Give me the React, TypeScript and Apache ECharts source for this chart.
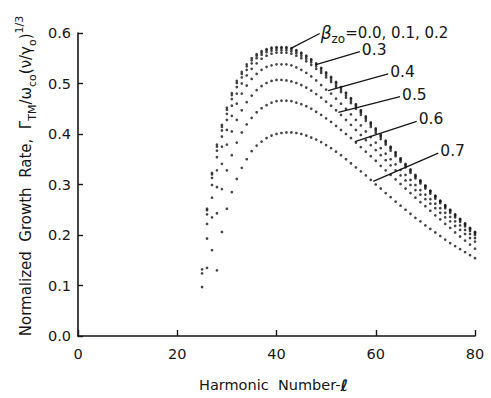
import React, { useEffect, useRef } from 'react';
import * as echarts from 'echarts';

// Normalized growth rate versus harmonic number, one dotted curve per beta_zo
const betaValues = ['0.0', '0.1', '0.2', '0.3', '0.4', '0.5', '0.6', '0.7'];
const firstHarmonic = [25, 25, 25, 26, 26, 26, 27, 28];

const rateBeta00 = [
  0.132, 0.252, 0.323, 0.379, 0.418, 0.452, 0.481, 0.505, 0.523, 0.538,
  0.550, 0.558, 0.564, 0.568, 0.571, 0.572, 0.572, 0.572, 0.570, 0.566,
  0.561, 0.555, 0.548, 0.540, 0.531, 0.522, 0.513, 0.503, 0.493, 0.482,
  0.471, 0.459, 0.447, 0.435, 0.423, 0.411, 0.399, 0.387, 0.375, 0.364,
  0.352, 0.341, 0.330, 0.319, 0.308, 0.298, 0.288, 0.278, 0.268, 0.259,
  0.250, 0.241, 0.232, 0.223, 0.214, 0.206,
];
const rateBeta01 = [
  0.124, 0.249, 0.320, 0.375, 0.414, 0.448, 0.477, 0.501, 0.519, 0.534,
  0.546, 0.555, 0.561, 0.566, 0.569, 0.570, 0.570, 0.570, 0.568, 0.564,
  0.559, 0.553, 0.546, 0.538, 0.529, 0.520, 0.511, 0.501, 0.491, 0.480,
  0.469, 0.457, 0.445, 0.433, 0.421, 0.409, 0.397, 0.385, 0.373, 0.362,
  0.350, 0.339, 0.328, 0.317, 0.307, 0.297, 0.287, 0.277, 0.267, 0.258,
  0.249, 0.240, 0.231, 0.222, 0.213, 0.205,
];
const rateBeta02 = [
  0.097, 0.241, 0.313, 0.367, 0.407, 0.440, 0.469, 0.493, 0.512, 0.527,
  0.540, 0.550, 0.557, 0.562, 0.565, 0.566, 0.566, 0.566, 0.564, 0.560,
  0.555, 0.549, 0.542, 0.534, 0.525, 0.516, 0.507, 0.497, 0.487, 0.476,
  0.465, 0.454, 0.442, 0.430, 0.418, 0.406, 0.394, 0.382, 0.371, 0.359,
  0.348, 0.337, 0.326, 0.315, 0.305, 0.295, 0.285, 0.275, 0.266, 0.256,
  0.247, 0.238, 0.229, 0.220, 0.211, 0.203,
];
const rateBeta03 = [
  0.222, 0.299, 0.354, 0.395, 0.428, 0.456, 0.480, 0.500, 0.516, 0.529,
  0.540, 0.549, 0.555, 0.559, 0.561, 0.561, 0.561, 0.559, 0.555, 0.550,
  0.544, 0.537, 0.529, 0.521, 0.512, 0.503, 0.493, 0.483, 0.472, 0.461,
  0.450, 0.438, 0.426, 0.414, 0.402, 0.390, 0.379, 0.367, 0.356, 0.345,
  0.334, 0.323, 0.312, 0.302, 0.292, 0.282, 0.272, 0.263, 0.253, 0.244,
  0.235, 0.226, 0.217, 0.208, 0.200,
];
const rateBeta04 = [
  0.193, 0.274, 0.328, 0.375, 0.408, 0.436, 0.460, 0.480, 0.496, 0.509,
  0.519, 0.527, 0.533, 0.536, 0.538, 0.538, 0.538, 0.536, 0.532, 0.527,
  0.521, 0.514, 0.506, 0.497, 0.488, 0.480, 0.470, 0.460, 0.450, 0.439,
  0.428, 0.417, 0.405, 0.394, 0.383, 0.372, 0.361, 0.350, 0.340, 0.329,
  0.319, 0.309, 0.299, 0.289, 0.280, 0.271, 0.262, 0.253, 0.244, 0.236,
  0.227, 0.219, 0.210, 0.202, 0.194,
];
const rateBeta05 = [
  0.135, 0.235, 0.295, 0.341, 0.379, 0.405, 0.428, 0.447, 0.463, 0.476,
  0.487, 0.495, 0.501, 0.505, 0.507, 0.507, 0.506, 0.504, 0.501, 0.497,
  0.492, 0.486, 0.479, 0.472, 0.464, 0.456, 0.447, 0.438, 0.428, 0.418,
  0.408, 0.398, 0.388, 0.378, 0.368, 0.358, 0.348, 0.338, 0.328, 0.318,
  0.308, 0.299, 0.289, 0.280, 0.271, 0.262, 0.253, 0.244, 0.235, 0.227,
  0.218, 0.210, 0.202, 0.194, 0.187,
];
const rateBeta06 = [
  0.170, 0.243, 0.291, 0.328, 0.358, 0.383, 0.403, 0.419, 0.432, 0.443,
  0.451, 0.457, 0.462, 0.465, 0.466, 0.466, 0.465, 0.462, 0.459, 0.455,
  0.450, 0.444, 0.438, 0.431, 0.424, 0.416, 0.408, 0.400, 0.392, 0.383,
  0.374, 0.365, 0.356, 0.347, 0.337, 0.328, 0.319, 0.310, 0.301, 0.292,
  0.283, 0.274, 0.265, 0.257, 0.248, 0.239, 0.231, 0.222, 0.214, 0.205,
  0.197, 0.189, 0.181, 0.173,
];
const rateBeta07 = [
  0.130, 0.206, 0.252, 0.285, 0.311, 0.333, 0.350, 0.366, 0.377, 0.385,
  0.392, 0.397, 0.400, 0.402, 0.403, 0.403, 0.402, 0.400, 0.397, 0.393,
  0.389, 0.384, 0.378, 0.372, 0.365, 0.358, 0.350, 0.342, 0.334, 0.326,
  0.318, 0.309, 0.300, 0.292, 0.283, 0.275, 0.266, 0.258, 0.250, 0.242,
  0.234, 0.227, 0.219, 0.212, 0.205, 0.198, 0.191, 0.184, 0.178, 0.172,
  0.166, 0.160, 0.154,
];
const rateSeries = [
  rateBeta00, rateBeta01, rateBeta02, rateBeta03,
  rateBeta04, rateBeta05, rateBeta06, rateBeta07,
];

// Leader-line annotations: [harmonic, rate] at the curve and at the label end
const annotationText = ['0.0, 0.1, 0.2', '0.3', '0.4', '0.5', '0.6', '0.7'];
const annotationTip = [
  [43.0, 0.570], [47.8, 0.537], [50.4, 0.486],
  [52.45, 0.443], [55.8, 0.385], [59.5, 0.306],
];
const annotationEnd = [
  [48.7, 0.599], [56.8, 0.563], [62.5, 0.519],
  [64.9, 0.474], [68.25, 0.425], [72.6, 0.362],
];

const FONT = '"DejaVu Sans", "Noto Sans", sans-serif';
const INK = '#161616';

export default function App() {
  const ref = useRef<HTMLDivElement>(null);

  useEffect(() => {
    if (!ref.current) return;
    const chart = echarts.init(ref.current, null, { renderer: 'svg' });

    const series = rateSeries.map((values, k) => ({
      type: 'scatter',
      name: betaValues[k],
      symbol: 'circle',
      symbolSize: 2.7,
      itemStyle: { color: INK },
      data: values.map((v, i) => [firstHarmonic[k] + i, v]),
      silent: true,
    }));

    chart.setOption({
      animation: false,
      backgroundColor: '#ffffff',
      grid: { left: 78, right: 16, top: 33, bottom: 61 },
      xAxis: {
        type: 'value',
        min: 0,
        max: 80,
        interval: 20,
        axisLine: { lineStyle: { color: INK, width: 1.6 } },
        axisTick: { inside: true, length: 6, lineStyle: { color: INK, width: 1.4 } },
        axisLabel: { color: INK, fontSize: 14.5, fontFamily: FONT, margin: 10 },
        splitLine: { show: false },
        name: 'Harmonic  Number-{l|ℓ}',
        nameLocation: 'middle',
        nameGap: 41,
        nameTextStyle: {
          color: INK,
          fontSize: 14.5,
          fontFamily: FONT,
          padding: [0, 6, 0, 0],
          rich: {
            l: { fontSize: 16, fontStyle: 'italic', fontWeight: 'bold', fontFamily: FONT, color: INK },
          },
        },
      },
      yAxis: {
        type: 'value',
        min: 0,
        max: 0.6,
        interval: 0.1,
        axisLine: { show: true, lineStyle: { color: INK, width: 1.6 } },
        axisTick: { show: true, inside: true, length: 5, lineStyle: { color: INK, width: 1.4 } },
        axisLabel: {
          color: INK,
          fontSize: 14.5,
          fontFamily: FONT,
          margin: 7,
          formatter: (v: number) => v.toFixed(1),
        },
        splitLine: { show: false },
      },
      series,
    });

    const toPx = (p: number[]) => chart.convertToPixel({ gridIndex: 0 }, p) as number[];

    const graphics: any[] = [];
    annotationText.forEach((txt, i) => {
      const a = toPx(annotationTip[i]);
      const b = toPx(annotationEnd[i]);
      graphics.push({
        type: 'line',
        silent: true,
        shape: { x1: a[0], y1: a[1], x2: b[0], y2: b[1] },
        style: { stroke: INK, lineWidth: 1.3 },
      });
      if (i === 0) {
        graphics.push({
          type: 'text',
          silent: true,
          x: b[0] + 1,
          y: b[1] - 1,
          style: {
            text: '{g|β}{s|zo}{n|=' + txt + '}',
            align: 'left',
            verticalAlign: 'middle',
            rich: {
              g: { fontSize: 17, fontStyle: 'italic', fontFamily: FONT, fill: INK, lineHeight: 22, verticalAlign: 'middle' },
              s: { fontSize: 12, fontFamily: FONT, fill: INK, lineHeight: 24, verticalAlign: 'bottom' },
              n: { fontSize: 15, fontFamily: FONT, fill: INK, lineHeight: 22, verticalAlign: 'middle' },
            },
          },
        });
      } else {
        graphics.push({
          type: 'text',
          silent: true,
          x: b[0] + 2,
          y: b[1] - 2,
          style: {
            text: txt,
            align: 'left',
            verticalAlign: 'middle',
            fontSize: 15.5,
            fontFamily: FONT,
            fill: INK,
          },
        });
      }
    });

    // Vertical axis title with sub- and superscripts
    graphics.push({
      type: 'text',
      silent: true,
      x: 26,
      y: 176,
      rotation: Math.PI / 2,
      style: {
        text: '{a|Normalized  Growth  Rate,  Γ}{s|TM}{a|/ω}{s|co}{a|(ν/γ}{s|o}{a|)}{p|1/3}',
        align: 'center',
        verticalAlign: 'middle',
        rich: {
          a: { fontSize: 15, fontFamily: FONT, fill: INK, lineHeight: 24, verticalAlign: 'middle' },
          s: { fontSize: 11, fontFamily: FONT, fill: INK, lineHeight: 24, verticalAlign: 'bottom' },
          p: { fontSize: 11, fontFamily: FONT, fill: INK, lineHeight: 24, verticalAlign: 'top' },
        },
      },
    });

    chart.setOption({ graphic: graphics });

    return () => chart.dispose();
  }, []);

  return <div ref={ref} style={{ width: 491, height: 398, position: 'absolute', left: 0, top: 0 }} />;
}
